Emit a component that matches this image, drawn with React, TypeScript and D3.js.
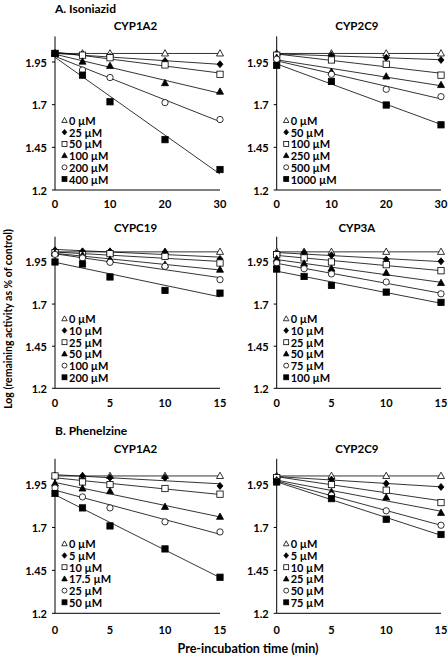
import React from "react";
import * as d3 from "d3";

// ---------- DATA ----------
const yTicks = [1.2, 1.45, 1.7, 1.95];

const isoCyp1a2Times = [0, 5, 10, 20, 30];
const isoCyp1a2Conc = ["0 µM", "25 µM", "50 µM", "100 µM", "200 µM", "400 µM"];
const isoCyp1a2Values = [
  [2.0, 2.0, 2.0, 2.0, 2.0],
  [2.0, 1.99, 1.98, 1.956, 1.937],
  [2.0, 1.99, 1.975, 1.933, 1.878],
  [2.0, 1.952, 1.927, 1.826, 1.776],
  [2.0, 1.903, 1.859, 1.712, 1.613],
  [2.0, 1.873, 1.717, 1.495, 1.32],
];

const isoCyp2c9Times = [0, 10, 20, 30];
const isoCyp2c9Conc = ["0 µM", "50 µM", "100 µM", "250 µM", "500 µM", "1000 µM"];
const isoCyp2c9Values = [
  [2.0, 2.0, 2.0, 2.0],
  [1.995, 1.99, 1.975, 1.962],
  [1.99, 1.962, 1.937, 1.873],
  [1.975, 1.892, 1.865, 1.815],
  [1.966, 1.878, 1.79, 1.747],
  [1.93, 1.836, 1.698, 1.582],
];

const isoCyp2c19Times = [0, 2.5, 5, 10, 15];
const isoCyp2c19Conc = ["0 µM", "10 µM", "25 µM", "50 µM", "100 µM", "200 µM"];
const isoCyp2c19Values = [
  [2.01, 2.01, 2.01, 2.01, 2.01],
  [2.02, 2.013, 2.013, 2.009, 1.968],
  [2.005, 1.993, 1.999, 1.983, 1.944],
  [2.0, 1.99, 1.964, 1.934, 1.904],
  [1.995, 1.974, 1.948, 1.924, 1.845],
  [1.95, 1.938, 1.861, 1.781, 1.765],
];

const isoCyp3aTimes = [0, 2.5, 5, 10, 15];
const isoCyp3aConc = ["0 µM", "10 µM", "25 µM", "50 µM", "75 µM", "100 µM"];
const isoCyp3aValues = [
  [2.01, 2.01, 2.01, 2.01, 2.01],
  [2.0, 2.005, 1.99, 1.964, 1.954],
  [1.993, 1.974, 1.95, 1.934, 1.898],
  [1.968, 1.94, 1.91, 1.885, 1.825],
  [1.944, 1.91, 1.879, 1.831, 1.761],
  [1.908, 1.864, 1.811, 1.771, 1.71],
];

const pheCyp1a2Times = [0, 2.5, 5, 10, 15];
const pheCyp1a2Conc = ["0 µM", "5 µM", "10 µM", "17.5 µM", "25 µM", "50 µM"];
const pheCyp1a2Values = [
  [2.0, 2.0, 2.0, 2.0, 2.0],
  [2.0, 2.0, 1.99, 1.99, 1.942],
  [2.0, 1.965, 1.95, 1.927, 1.894],
  [1.956, 1.927, 1.911, 1.82, 1.762],
  [1.93, 1.878, 1.814, 1.733, 1.674],
  [1.898, 1.814, 1.709, 1.575, 1.41],
];

const pheCyp2c9Times = [0, 5, 10, 15];
const pheCyp2c9Conc = ["0 µM", "5 µM", "10 µM", "25 µM", "50 µM", "75 µM"];
const pheCyp2c9Values = [
  [2.0, 2.0, 2.0, 2.0],
  [1.995, 1.979, 1.956, 1.936],
  [1.99, 1.95, 1.917, 1.845],
  [1.975, 1.907, 1.874, 1.785],
  [1.97, 1.888, 1.797, 1.713],
  [1.965, 1.868, 1.748, 1.659],
];

// ---------- LAYOUT ----------
const FONT = "Lato, 'Open Sans', sans-serif";
const markerKinds = ["triOpen", "diamond", "sqOpen", "triFilled", "circOpen", "sqFilled"];

const colX = [
  [55, 220],
  [276.7, 441],
];
const rowY = [
  { bottom: 190, top: 36.4, title: 25, tickDy: 13 },
  { bottom: 388.3, top: 236.7, title: 227, tickDy: 14.5 },
  { bottom: 613.3, top: 458.8, title: 448.5, tickDy: 16.5 },
];

const panels = [
  { title: "CYP1A2", row: 0, col: 0, xMax: 30, xTicks: [0, 10, 20, 30], times: isoCyp1a2Times, conc: isoCyp1a2Conc, values: isoCyp1a2Values },
  { title: "CYP2C9", row: 0, col: 1, xMax: 30, xTicks: [0, 10, 20, 30], times: isoCyp2c9Times, conc: isoCyp2c9Conc, values: isoCyp2c9Values },
  { title: "CYPC19", row: 1, col: 0, xMax: 15, xTicks: [0, 5, 10, 15], times: isoCyp2c19Times, conc: isoCyp2c19Conc, values: isoCyp2c19Values },
  { title: "CYP3A", row: 1, col: 1, xMax: 15, xTicks: [0, 5, 10, 15], times: isoCyp3aTimes, conc: isoCyp3aConc, values: isoCyp3aValues },
  { title: "CYP1A2", row: 2, col: 0, xMax: 15, xTicks: [0, 5, 10, 15], times: pheCyp1a2Times, conc: pheCyp1a2Conc, values: pheCyp1a2Values },
  { title: "CYP2C9", row: 2, col: 1, xMax: 15, xTicks: [0, 5, 10, 15], times: pheCyp2c9Times, conc: pheCyp2c9Conc, values: pheCyp2c9Values },
];

function fit(xs: number[], ys: number[]) {
  const mx = d3.mean(xs) as number;
  const my = d3.mean(ys) as number;
  let num = 0, den = 0;
  xs.forEach((x, i) => {
    num += (x - mx) * (ys[i] - my);
    den += (x - mx) * (x - mx);
  });
  const b = den === 0 ? 0 : num / den;
  return { a: my - b * mx, b };
}

function Marker({ kind, x, y, s }: { kind: string; x: number; y: number; s: number }) {
  const h = s / 2;
  const sw = 0.8;
  switch (kind) {
    case "triOpen":
    case "triFilled": {
      const th = s * 0.9;
      const d = `M${x},${y - th * 0.6}L${x + h},${y + th * 0.4}L${x - h},${y + th * 0.4}Z`;
      return <path d={d} fill={kind === "triFilled" ? "#000" : "#fff"} stroke="#000" strokeWidth={sw} />;
    }
    case "diamond": {
      const d = `M${x},${y - h}L${x + h * 0.85},${y}L${x},${y + h}L${x - h * 0.85},${y}Z`;
      return <path d={d} fill="#000" stroke="#000" strokeWidth={sw} />;
    }
    case "sqOpen":
    case "sqFilled": {
      const q = s * 0.45;
      return <rect x={x - q} y={y - q} width={2 * q} height={2 * q} fill={kind === "sqFilled" ? "#000" : "#fff"} stroke="#000" strokeWidth={sw} />;
    }
    case "circOpen":
      return <circle cx={x} cy={y} r={s * 0.45} fill="#fff" stroke="#000" strokeWidth={sw} />;
  }
  return null;
}

function Panel({ p }: { p: (typeof panels)[number] }) {
  const [x0, x1] = colX[p.col];
  const r = rowY[p.row];
  const xs = d3.scaleLinear().domain([0, p.xMax]).range([x0, x1]);
  const ys = d3.scaleLinear().domain([1.2, 2.1]).range([r.bottom, r.top]);
  return (
    <g>
      <text x={(x0 + x1) / 2 - 2} y={r.title} textAnchor="middle" dominantBaseline="central" fontSize={11.5} fontWeight="bold" fontFamily={FONT}>
        {p.title}
      </text>
      <line x1={x0} x2={x0} y1={r.top} y2={r.bottom} stroke="#000" strokeWidth={1} />
      <line x1={x0} x2={x1} y1={r.bottom} y2={r.bottom} stroke="#000" strokeWidth={1} />
      {yTicks.map((t) => (
        <g key={t}>
          <line x1={x0 - 3} x2={x0} y1={ys(t)} y2={ys(t)} stroke="#000" strokeWidth={1} />
          <text x={x0 - 8} y={ys(t)} textAnchor="end" dominantBaseline="central" fontSize={11} fontWeight="bold" fontFamily={FONT}>
            {t}
          </text>
        </g>
      ))}
      {p.xTicks.map((t) => (
        <text key={t} x={xs(t)} y={r.bottom + r.tickDy} textAnchor="middle" dominantBaseline="central" fontSize={11} fontWeight="bold" fontFamily={FONT}>
          {t}
        </text>
      ))}
      {p.values.map((vals, i) => {
        const f = fit(p.times, vals);
        const t0 = 0, t1 = p.xMax;
        return (
          <line key={"l" + i} x1={xs(t0)} y1={ys(f.a + f.b * t0)} x2={xs(t1)} y2={ys(f.a + f.b * t1)} stroke="#000" strokeWidth={0.8} />
        );
      })}
      {p.values.map((vals, i) =>
        vals.map((v, j) => <Marker key={i + "-" + j} kind={markerKinds[i]} x={xs(p.times[j])} y={ys(v)} s={7} />)
      )}
      {p.conc.map((c, i) => {
        const ly = r.bottom - 69.5 + i * 11.7;
        return (
          <g key={"lg" + i}>
            <Marker kind={markerKinds[i]} x={x0 + 9.5} y={ly} s={5.5} />
            <text x={x0 + 14} y={ly} dominantBaseline="central" fontSize={11} fontWeight="bold" fontFamily={FONT}>
              {c}
            </text>
          </g>
        );
      })}
    </g>
  );
}

export default function App() {
  return (
    <svg width={448} height={659} style={{ position: "absolute", left: 0, top: 0, background: "#fff" }}>
      <rect width={448} height={659} fill="#fff" />
      <text x={55} y={8} dominantBaseline="central" fontSize={12} fontWeight="bold" fontFamily={FONT}>
        A. Isoniazid
      </text>
      <text x={55} y={430} dominantBaseline="central" fontSize={12} fontWeight="bold" fontFamily={FONT}>
        B. Phenelzine
      </text>
      <text
        transform={`translate(8,319) rotate(-90)`}
        textAnchor="middle"
        dominantBaseline="central"
        fontSize={10.5}
        fontWeight="bold"
        fontFamily={FONT}
      >
        Log (remaining activity as % of control)
      </text>
      <text x={248} y={648} textAnchor="middle" dominantBaseline="central" fontSize={12.5} fontWeight="bold" fontFamily={FONT}>
        Pre-incubation time (min)
      </text>
      {panels.map((p, i) => (
        <Panel key={i} p={p} />
      ))}
    </svg>
  );
}
